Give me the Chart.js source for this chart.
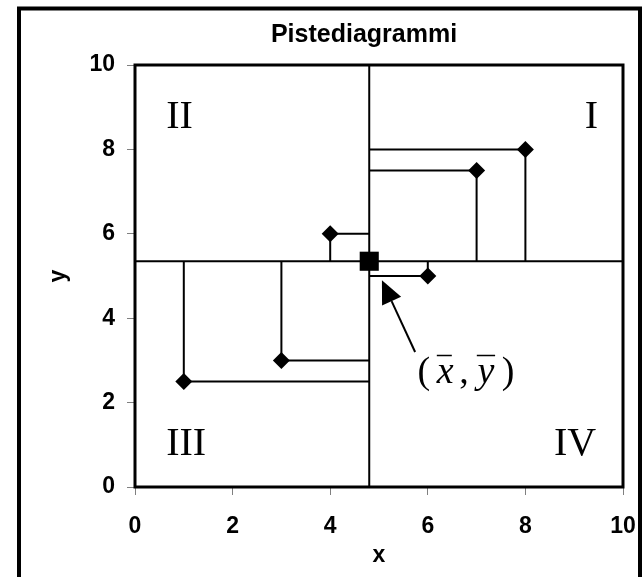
<!DOCTYPE html>
<html>
<head>
<meta charset="utf-8">
<script src="https://cdn.jsdelivr.net/npm/chart.js@4.4.1/dist/chart.umd.min.js"></script>
<style>
  body { margin: 0; background: #fff; }
  #chartBox { display: block; }
</style>
</head>
<body>
<canvas id="chartBox" width="642" height="577"></canvas>
<script>
// data
const xValues = [1, 3, 4, 6, 7, 8];
const yValues = [2.5, 3, 6, 5, 7.5, 8];
const meanPoint = [4.8, 5.35]; // (x bar, y bar) as drawn
const axisMin = 0;
const axisMax = 10;
const tickStep = 2;
const chartTitle = 'Pistediagrammi';
const quadrants = ['I', 'II', 'III', 'IV'];

const sansBold = { family: "'Liberation Sans', Arial, sans-serif", size: 23, weight: 'bold' };
const serif = "'Liberation Serif', 'Times New Roman', serif";

const [mx, my] = meanPoint;

// L-shaped connectors from each point to the mean lines
const connectors = xValues.map((x, i) => ({
  type: 'line',
  data: [{ x: mx, y: yValues[i] }, { x: x, y: yValues[i] }, { x: x, y: my }],
  borderColor: '#000',
  borderWidth: 2,
  pointRadius: 0,
  fill: false
}));

const meanLines = [
  { type: 'line', data: [{ x: axisMin, y: my }, { x: axisMax, y: my }], borderColor: '#000', borderWidth: 2, pointRadius: 0 },
  { type: 'line', data: [{ x: mx, y: axisMin }, { x: mx, y: axisMax }], borderColor: '#000', borderWidth: 2, pointRadius: 0 }
];

const overlay = {
  id: 'overlay',
  beforeDraw(chart) {
    const ctx = chart.ctx;
    ctx.save();
    ctx.fillStyle = '#fff';
    ctx.fillRect(0, 0, chart.width, chart.height);
    ctx.restore();
  },
  afterDatasetsDraw(chart) {
    const { ctx, chartArea: a } = chart;
    ctx.save();
    ctx.strokeStyle = '#000';
    ctx.lineWidth = 3;
    ctx.strokeRect(a.left, a.top, a.right - a.left, a.bottom - a.top);
    ctx.restore();
  },
  afterDraw(chart) {
    const { ctx } = chart;
    const sx = chart.scales.x, sy = chart.scales.y;
    const px = v => sx.getPixelForValue(v);
    const py = v => sy.getPixelForValue(v);
    ctx.save();

    // outer chart frame
    ctx.strokeStyle = '#000';
    ctx.lineWidth = 4;
    ctx.strokeRect(19, 8.5, 621, 620);

    // title
    ctx.fillStyle = '#000';
    ctx.font = "bold 25px 'Liberation Sans', Arial, sans-serif";
    ctx.textAlign = 'center';
    ctx.textBaseline = 'alphabetic';
    ctx.fillText(chartTitle, 364, 42);

    // quadrant numerals
    ctx.font = '40px ' + serif;
    ctx.textAlign = 'left';
    ctx.fillText(quadrants[1], px(0.64), py(8.5));
    ctx.fillText(quadrants[2], px(0.64), py(0.76));
    ctx.textAlign = 'right';
    ctx.fillText(quadrants[0], px(9.49), py(8.5));
    ctx.fillText(quadrants[3], px(9.45), py(0.76));

    // arrow pointing at the mean
    const tail = [px(5.74), py(3.2)];
    const tip = [px(5.06), py(4.9)];
    const dx = tip[0] - tail[0], dy = tip[1] - tail[1];
    const len = Math.hypot(dx, dy);
    const ux = dx / len, uy = dy / len;
    const bx = tip[0] - 23 * ux, by = tip[1] - 23 * uy;
    ctx.lineWidth = 2;
    ctx.beginPath();
    ctx.moveTo(tail[0], tail[1]);
    ctx.lineTo(bx, by);
    ctx.stroke();
    ctx.beginPath();
    ctx.moveTo(tip[0], tip[1]);
    ctx.lineTo(bx - 10.5 * uy, by + 10.5 * ux);
    ctx.lineTo(bx + 10.5 * uy, by - 10.5 * ux);
    ctx.closePath();
    ctx.fill();

    // (x bar, y bar) label
    const lx = tail[0] + 5, base = tail[1] + 31;
    ctx.textAlign = 'center';
    ctx.font = '38px ' + serif;
    ctx.fillText('(', lx + 3.7, base);
    ctx.fillText(',', lx + 44, base);
    ctx.fillText(')', lx + 88, base);
    ctx.font = 'italic 38px ' + serif;
    ctx.fillText('x', lx + 25, base);
    ctx.fillText('y', lx + 65.7, base);
    ctx.lineWidth = 1.5;
    ctx.beginPath();
    ctx.moveTo(lx + 16.7, base - 27.5); ctx.lineTo(lx + 31.7, base - 27.5);
    ctx.moveTo(lx + 56.7, base - 27.5); ctx.lineTo(lx + 75, base - 27.5);
    ctx.stroke();

    ctx.restore();
  }
};

new Chart(document.getElementById('chartBox').getContext('2d'), {
  type: 'scatter',
  data: {
    datasets: [
      ...meanLines,
      ...connectors,
      {
        type: 'scatter',
        data: xValues.map((x, i) => ({ x: x, y: yValues[i] })),
        pointStyle: 'rectRot',
        pointRadius: 8.5,
        pointHoverRadius: 8.5,
        backgroundColor: '#000',
        borderColor: '#000',
        borderWidth: 0
      },
      {
        type: 'scatter',
        data: [{ x: mx, y: my }],
        pointStyle: 'rect',
        pointRadius: 13.5,
        pointHoverRadius: 13.5,
        backgroundColor: '#000',
        borderColor: '#000',
        borderWidth: 0
      }
    ]
  },
  options: {
    responsive: false,
    animation: false,
    layout: { padding: { top: 65, right: 19, bottom: 0, left: 0 } },
    plugins: {
      legend: { display: false },
      tooltip: { enabled: false },
      title: { display: false }
    },
    scales: {
      x: {
        type: 'linear',
        min: axisMin,
        max: axisMax,
        ticks: { stepSize: tickStep, color: '#000', font: sansBold, padding: 18, maxRotation: 0 },
        grid: { drawOnChartArea: false, drawTicks: true, tickLength: 8, color: '#808080', lineWidth: 1 },
        border: { display: false },
        title: { display: true, text: 'x', color: '#000', font: sansBold, padding: { top: 0, bottom: 8 } },
        afterFit: scale => {
          scale.height = 90;
          scale.paddingLeft = 0;
          scale.paddingRight = 0;
        }
      },
      y: {
        type: 'linear',
        min: axisMin,
        max: axisMax,
        ticks: { stepSize: tickStep, color: '#000', font: sansBold, padding: 12 },
        grid: { drawOnChartArea: false, drawTicks: true, tickLength: 8, color: '#808080', lineWidth: 1 },
        border: { display: false },
        title: { display: true, text: 'y', color: '#000', font: sansBold, padding: { top: 45, bottom: 0 } },
        afterFit: scale => {
          scale.width = 135;
          scale.paddingTop = 0;
          scale.paddingBottom = 0;
        }
      }
    }
  },
  plugins: [overlay]
});
</script>
</body>
</html>
